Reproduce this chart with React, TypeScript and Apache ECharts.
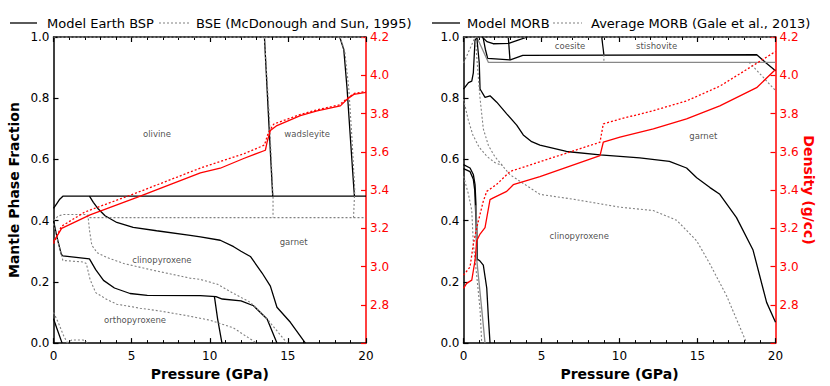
import React, { useEffect, useRef } from "react";
import * as echarts from "echarts";

// ---------- Left panel: Model Earth BSP (solid) vs BSE (dotted) ----------
const bspGarnetTop = [[0, 0.44], [0.2, 0.455], [0.4, 0.47], [0.6, 0.48], [20, 0.48]];
const bspCpxGarnet = [[2.3, 0.48], [2.55, 0.46], [2.87, 0.438], [3.3, 0.416], [4.05, 0.394], [5.1, 0.378], [6.6, 0.367], [8.75, 0.352], [9.4, 0.347], [10.67, 0.336], [11.53, 0.315], [12.0, 0.3], [12.6, 0.283], [13.35, 0.229], [13.88, 0.186], [14.3, 0.117], [15.16, 0.068], [16.12, 0]];
const bspOpxCpx = [[0, 0.4], [0.25, 0.34], [0.5, 0.29], [0.6, 0.285], [2.3, 0.275], [2.7, 0.24], [3.2, 0.205], [3.9, 0.18], [4.9, 0.162], [6, 0.156], [9.4, 0.155], [10.4, 0.152], [10.8, 0.144], [12, 0.138], [12.8, 0.122], [13.67, 0.079], [14.3, 0]];
const bspOpxOut = [[10.3, 0.152], [10.5, 0.08], [10.78, 0]];
const bspLowPhase = [[0, 0.08], [0.2, 0.05], [0.55, 0]];
const bspOlWad = [[13.5, 1.0], [13.75, 0.75], [14.03, 0.48]];
const bspWadRing = [[18.32, 1.0], [18.58, 0.958], [18.79, 0.83], [19.0, 0.67], [19.22, 0.507], [19.26, 0.48]];

const bseGarnetTop = [[0, 0.4], [0.3, 0.415], [0.6, 0.42], [2.1, 0.42], [2.2, 0.41], [20, 0.41]];
const bseCpxGarnet = [[2.2, 0.42], [2.3, 0.37], [2.45, 0.32], [2.8, 0.295], [3.4, 0.28], [4.5, 0.26], [6.2, 0.24], [8.75, 0.212], [9.4, 0.208], [10.5, 0.192], [11.5, 0.163], [12.6, 0.133], [13.67, 0.079], [14.95, 0]];
const bseOpxCpx = [[0, 0.39], [0.3, 0.33], [0.6, 0.27], [1.9, 0.265], [2.1, 0.26], [2.34, 0.208], [2.7, 0.165], [3.4, 0.143], [4.05, 0.127], [5.54, 0.114], [6.8, 0.105], [8.5, 0.09], [10, 0.075], [11.5, 0.05], [13.0, 0]];
const bseLowPhase = [[0, 0.1], [0.3, 0.068], [0.63, 0.026], [0.85, 0.004], [0.9, 0]];
const bseLowBump = [[0.85, 0], [1.17, 0.01], [1.9, 0.01], [2.2, 0]];
const bseOlWad = [[13.5, 1.0], [13.8, 0.75], [14.05, 0.48], [14.05, 0.41]];
const bseWadRing = [[18.35, 1.0], [18.65, 0.95], [18.9, 0.83], [19.1, 0.67], [19.28, 0.5], [19.2, 0.41]];
const topBoundary = [[0, 1], [20, 1]];

const bspDensity = [[0, 3.13], [0.3, 3.17], [0.52, 3.2], [2.34, 3.27], [5.3, 3.36], [9.4, 3.49], [10.67, 3.514], [12.17, 3.565], [13.56, 3.608], [13.67, 3.651], [13.88, 3.711], [14.3, 3.737], [15.8, 3.789], [16.87, 3.814], [18.36, 3.84], [18.79, 3.875], [19.22, 3.9], [20, 3.91]];
const bseDensity = [[0, 3.12], [0.5, 3.21], [2, 3.285], [5.3, 3.385], [9.4, 3.515], [12.2, 3.59], [13.5, 3.635], [13.75, 3.7], [14.1, 3.745], [15.8, 3.795], [16.9, 3.82], [18.3, 3.845], [18.8, 3.88], [19.25, 3.905], [20, 3.915]];

// ---------- Right panel: Model MORB (solid) vs Average MORB (dotted) ----------
const morbCoesLoop = [[1.2, 1.0], [1.5, 0.985], [1.9, 0.978], [2.9, 0.979], [3.5, 0.99], [4.1, 1.0]];
const morbSilicaTop = [[1.25, 1.0], [1.4, 0.96], [1.55, 0.93], [3.0, 0.925], [3.8, 0.94], [18.8, 0.942], [19.4, 0.915], [20, 0.89]];
const morbCoesVert = [[2.87, 1.0], [2.98, 0.926]];
const morbStishVert = [[8.86, 1.0], [9.0, 0.942]];
const morbGreyTop = [[0.85, 1.0], [1.6, 0.917], [20, 0.917]];
const morbRise = [[0, 0.83], [0.32, 0.851], [0.53, 0.856], [0.63, 0.883], [0.74, 0.99], [0.85, 1.0]];
const morbGarnetCpx = [[0.85, 1.0], [1.01, 0.915], [1.06, 0.83], [1.38, 0.803], [1.7, 0.808], [2.13, 0.787], [2.77, 0.749], [3.41, 0.712], [3.83, 0.68], [4.37, 0.658], [4.9, 0.647], [6.6, 0.626], [8.75, 0.615], [10.03, 0.61], [11.3, 0.605], [13.2, 0.594], [14.3, 0.572], [14.95, 0.54], [15.8, 0.508], [16.43, 0.486], [17.5, 0.41], [18.56, 0.304], [19.43, 0.133], [20, 0.068]];
const morbLow1 = [[0, 0.583], [0.42, 0.572], [0.63, 0.551], [0.74, 0.518], [0.8, 0.45], [0.85, 0.38], [0.88, 0.275], [1.06, 0.268], [1.27, 0.255], [1.49, 0.18], [1.6, 0.08], [1.7, 0]];
const morbLow2 = [[0, 0.57], [0.42, 0.56], [0.63, 0.535], [0.72, 0.5], [0.8, 0.4], [0.85, 0.3], [0.88, 0.27]];
const morbGreyLow = [[0.8, 0.45], [0.85, 0.272], [1.17, 0.111], [1.38, 0]];

const galeD1 = [[0, 0.915], [0.4, 0.96], [0.75, 1.0]];
const galeD2 = [[0.75, 1.0], [0.95, 0.87], [1.06, 0.8], [1.27, 0.7], [1.6, 0.645], [2.0, 0.61], [2.98, 0.55], [4.9, 0.486], [7.04, 0.47], [10.03, 0.444], [12.17, 0.433], [13.67, 0.401], [14.95, 0.334], [15.8, 0.258], [16.87, 0.154], [18.15, 0]];
const galeD3 = [[0, 0.797], [0.3, 0.73], [0.6, 0.68], [1.0, 0.64], [1.5, 0.61], [2.0, 0.59], [2.5, 0.58]];
const galeD4 = [[0, 0.545], [0.32, 0.486], [0.53, 0.433], [0.63, 0.326], [0.85, 0.219], [1.06, 0.111], [1.17, 0]];
const galeStishVert = [[9.0, 0.942], [9.0, 0.918]];
const galeRight = [[18.3, 0.918], [19.0, 0.88], [20, 0.825]];

const morbDensity = [[0, 2.886], [0.2, 2.912], [0.53, 2.929], [0.74, 3.032], [0.85, 3.135], [1.06, 3.17], [1.38, 3.204], [1.7, 3.35], [1.91, 3.359], [2.77, 3.393], [3.19, 3.428], [4.9, 3.47], [8.75, 3.58], [8.96, 3.65], [10.03, 3.677], [12.17, 3.72], [14.3, 3.772], [16.43, 3.84], [18.79, 3.935], [20, 4.03]];
const galeDensity = [[0, 2.955], [0.42, 2.998], [0.63, 3.118], [0.85, 3.204], [1.27, 3.342], [1.49, 3.393], [2.13, 3.43], [2.98, 3.497], [4.9, 3.548], [8.75, 3.65], [8.96, 3.746], [10.03, 3.771], [12.17, 3.815], [14.3, 3.866], [16.43, 3.943], [18.15, 4.03], [20, 4.124]];

// phase labels [pressure, fraction, name]
const leftPhaseLabels = [[6.62, 0.682, "olivine"], [16.23, 0.682, "wadsleyite"], [6.94, 0.27, "clinopyroxene"], [5.22, 0.076, "orthopyroxene"], [15.37, 0.331, "garnet"]];
const rightPhaseLabels = [[6.83, 0.972, "coesite"], [12.38, 0.969, "stishovite"], [15.37, 0.676, "garnet"], [7.42, 0.35, "clinopyroxene"]];

const fracTicks = [0, 0.2, 0.4, 0.6, 0.8, 1.0];
const FONT = "DejaVu Sans";

export default function App() {
  const ref = useRef<HTMLDivElement>(null);
  useEffect(() => {
    if (!ref.current) return;
    const chart = echarts.init(ref.current, undefined, { renderer: "svg" });

    const solid = { color: "#000", width: 1.3, type: "solid" };
    const greySolid = { color: "#888", width: 1.3, type: "solid" };
    const dotted = { color: "#808080", width: 1.1, type: [2, 2] };
    const redSolid = { color: "#ff0000", width: 1.3, type: "solid" };
    const redDotted = { color: "#ff0000", width: 1.3, type: [2, 2] };

    const line = (data: number[][], xi: number, yi: number, style: any, z = 3) => ({
      type: "line",
      xAxisIndex: xi,
      yAxisIndex: yi,
      data,
      symbol: "none",
      showSymbol: false,
      silent: true,
      z,
      lineStyle: style,
    });

    const labels = (list: any[], xi: number, yi: number) => ({
      type: "scatter",
      xAxisIndex: xi,
      yAxisIndex: yi,
      symbolSize: 0,
      silent: true,
      z: 6,
      data: list.map((d) => ({ value: [d[0], d[1]], name: d[2] })),
      label: {
        show: true,
        position: "inside",
        formatter: "{b}",
        fontFamily: FONT,
        fontSize: 8.5,
        color: "#222",
      },
    });

    const xBottom = (gi: number) => ({
      type: "value",
      gridIndex: gi,
      position: "bottom",
      min: 0,
      max: 20,
      interval: 5,
      axisLine: { show: true, onZero: false, lineStyle: { color: "#000", width: 1.5 } },
      axisTick: { show: true, inside: true, length: 5, lineStyle: { color: "#000", width: 1.2 } },
      minorTick: { show: true, splitNumber: 5, length: 3, lineStyle: { color: "#000", width: 1 } },
      axisLabel: { color: "#000", fontFamily: FONT, fontSize: 12, margin: 7 },
      splitLine: { show: false },
      name: "Pressure (GPa)",
      nameLocation: "middle",
      nameGap: 19,
      nameTextStyle: { fontFamily: FONT, fontWeight: "bold", fontSize: 14, color: "#000" },
    });
    const xTop = (gi: number) => ({
      type: "value",
      gridIndex: gi,
      position: "top",
      min: 0,
      max: 20,
      interval: 5,
      axisLine: { show: true, onZero: false, lineStyle: { color: "#000", width: 1.5 } },
      axisTick: { show: true, inside: true, length: 5, lineStyle: { color: "#000", width: 1.2 } },
      minorTick: { show: true, splitNumber: 5, length: 3, lineStyle: { color: "#000", width: 1 } },
      axisLabel: { show: false },
      splitLine: { show: false },
    });
    const yFrac = (gi: number, name?: string) => ({
      type: "value",
      gridIndex: gi,
      position: "left",
      min: 0,
      max: 1,
      interval: 0.2,
      axisLine: { show: true, onZero: false, lineStyle: { color: "#000", width: 1.5 } },
      axisTick: { show: true, inside: true, length: 5, lineStyle: { color: "#000", width: 1.2 } },
      axisLabel: {
        color: "#000",
        fontFamily: FONT,
        fontSize: 12,
        margin: 4,
        formatter: (v: number) => fracTicks.includes(Math.round(v * 10) / 10) ? v.toFixed(1) : "",
      },
      splitLine: { show: false },
      name: name || "",
      nameLocation: "middle",
      nameGap: 33,
      nameTextStyle: { fontFamily: FONT, fontWeight: "bold", fontSize: 14, color: "#000" },
    });
    const yDens = (gi: number, name?: string) => ({
      type: "value",
      gridIndex: gi,
      position: "right",
      min: 2.6,
      max: 4.2,
      interval: 0.2,
      axisLine: { show: true, onZero: false, lineStyle: { color: "#ff0000", width: 1.5 } },
      axisTick: { show: true, inside: true, length: 5, lineStyle: { color: "#ff0000", width: 1.2 } },
      axisLabel: {
        color: "#ff0000",
        fontFamily: FONT,
        fontSize: 12,
        margin: 4,
        formatter: (v: number) => (v < 2.7 ? "" : v.toFixed(1)),
      },
      splitLine: { show: false },
      name: name || "",
      nameLocation: "middle",
      nameRotate: -90,
      nameGap: 22,
      nameTextStyle: { fontFamily: FONT, fontWeight: "bold", fontSize: 14, color: "#ff0000" },
    });

    const legendItem = (x1: number, x2: number, textX: number, text: string, style: any) => [
      { type: "line", shape: { x1, y1: 23, x2, y2: 23 }, style: { stroke: style.color, lineWidth: style.width, lineDash: style.type === "solid" ? null : style.type } },
      { type: "text", x: textX, y: 23, style: { text, fontFamily: FONT, fontSize: 13, fill: "#000", verticalAlign: "middle", align: "left" } },
    ];

    const option: any = {
      animation: false,
      backgroundColor: "#fff",
      grid: [
        { left: 53.5, top: 37, width: 312.5, height: 311, containLabel: false },
        { left: 463.5, top: 37, width: 312, height: 311, containLabel: false },
      ],
      xAxis: [xBottom(0), xTop(0), xBottom(1), xTop(1)],
      yAxis: [yFrac(0, "Mantle Phase Fraction"), yDens(0), yFrac(1), yDens(1, "Density (g/cc)")],
      graphic: [
        ...legendItem(10, 37, 47, "Model Earth BSP", solid),
        ...legendItem(159, 189, 196, "BSE (McDonough and Sun, 1995)", dotted),
        ...legendItem(432, 460, 467, "Model MORB", solid),
        ...legendItem(553, 582, 591, "Average MORB (Gale et al., 2013)", dotted),
      ],
      series: [
        // left solid
        line(bspGarnetTop, 0, 0, solid),
        line(bspCpxGarnet, 0, 0, solid),
        line(bspOpxCpx, 0, 0, solid),
        line(bspOpxOut, 0, 0, solid),
        line(bspLowPhase, 0, 0, solid),
        line(bspOlWad, 0, 0, solid),
        line(bspWadRing, 0, 0, solid),
        // left dotted
        line(bseGarnetTop, 0, 0, dotted, 4),
        line(bseCpxGarnet, 0, 0, dotted, 4),
        line(bseOpxCpx, 0, 0, dotted, 4),
        line(bseLowPhase, 0, 0, dotted, 4),
        line(bseLowBump, 0, 0, dotted, 4),
        line(bseOlWad, 0, 0, dotted, 4),
        line(bseWadRing, 0, 0, dotted, 4),
        line(topBoundary, 0, 0, { color: "#bbb", width: 1.2, type: [2, 2] }, 7),
        // left density
        line(bspDensity, 0, 1, redSolid, 5),
        line(bseDensity, 0, 1, redDotted, 5),
        labels(leftPhaseLabels, 0, 0),
        // right solid
        line(morbCoesLoop, 2, 2, solid),
        line(morbSilicaTop, 2, 2, solid),
        line(morbCoesVert, 2, 2, solid),
        line(morbStishVert, 2, 2, solid),
        line(morbGreyTop, 2, 2, greySolid),
        line(morbRise, 2, 2, solid),
        line(morbGarnetCpx, 2, 2, solid),
        line(morbLow1, 2, 2, solid),
        line(morbLow2, 2, 2, solid),
        line(morbGreyLow, 2, 2, greySolid),
        // right dotted
        line(galeD1, 2, 2, dotted, 4),
        line(galeD2, 2, 2, dotted, 4),
        line(galeD3, 2, 2, dotted, 4),
        line(galeD4, 2, 2, dotted, 4),
        line(galeStishVert, 2, 2, dotted, 4),
        line(galeRight, 2, 2, dotted, 4),
        line(topBoundary, 2, 2, { color: "#bbb", width: 1.2, type: [2, 2] }, 7),
        // right density
        line(morbDensity, 2, 3, redSolid, 5),
        line(galeDensity, 2, 3, redDotted, 5),
        labels(rightPhaseLabels, 2, 2),
      ],
    };
    chart.setOption(option);
    return () => chart.dispose();
  }, []);

  return (
    <div
      ref={ref}
      style={{ position: "fixed", left: 0, top: 0, width: 830, height: 386, background: "#fff" }}
    />
  );
}
